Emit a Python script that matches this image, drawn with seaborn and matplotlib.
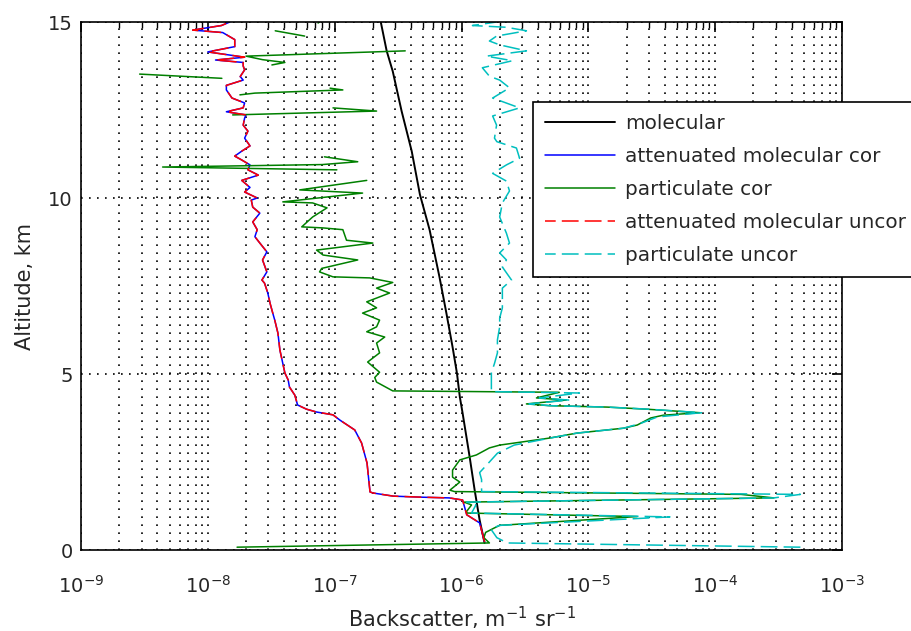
import numpy as np
import pandas as pd
import matplotlib
matplotlib.use("Agg")
import matplotlib.pyplot as plt
import seaborn as sns
from matplotlib.lines import Line2D
from matplotlib.ticker import LogLocator, NullFormatter

# ---------------- data ----------------
alt_mol = [0.2, 0.85, 1.7, 2.64, 3.89, 4.35, 5.03, 5.77, 6.73, 7.76, 9.1, 10.1,
           11.33, 12.47, 13.6, 14.18, 15.0]
molecular = [1.52e-6, 1.39e-6, 1.27e-6, 1.16e-6, 1.02e-6, 9.7e-7, 9.2e-7, 8.5e-7,
             7.6e-7, 6.7e-7, 5.6e-7, 4.7e-7, 4.05e-7, 3.37e-7, 2.87e-7, 2.57e-7, 2.31e-7]

alt_att = [0.23, 0.77, 1.0, 1.42, 1.48, 1.50, 1.53, 1.62, 1.65, 2.05, 2.47, 3.04, 3.41,
           3.69, 3.84, 3.92, 4.0, 4.12, 4.4, 4.63, 4.83, 5.03, 5.68, 6.16, 6.53, 6.73,
           7.0, 7.3, 7.58, 7.67, 7.9, 8.24, 8.47, 8.72, 8.9, 9.1, 9.32, 9.57, 9.74,
           9.94, 10.0, 10.17, 10.3, 10.5, 10.65, 10.8, 10.94, 11.08, 11.19, 11.33,
           11.48, 11.7, 11.9, 12.07, 12.27, 12.36, 12.45, 12.56, 12.7, 12.84, 13.07,
           13.2, 13.35, 13.45, 13.64, 13.75, 13.85, 13.92, 14.0, 14.15, 14.3, 14.5,
           14.7, 14.77, 14.9, 15.0]
att_mol_cor = [1.52e-6, 1.39e-6, 1.1e-6, 1.02e-6, 8.0e-7, 4.9e-7, 2.9e-7, 2.0e-7,
               1.9e-7, 1.85e-7, 1.8e-7, 1.63e-7, 1.44e-7, 1.1e-7, 9.7e-8, 7.2e-8,
               6.0e-8, 5.1e-8, 4.85e-8, 4.4e-8, 4.3e-8, 4.05e-8, 3.7e-8, 3.57e-8,
               3.37e-8, 3.25e-8, 3.1e-8, 2.97e-8, 2.8e-8, 2.67e-8, 2.92e-8, 2.7e-8,
               2.92e-8, 2.57e-8, 2.35e-8, 2.45e-8, 2.26e-8, 2.57e-8, 2.26e-8, 2.2e-8,
               2.45e-8, 1.95e-8, 2.15e-8, 1.85e-8, 2.5e-8, 2.07e-8, 2.15e-8, 1.85e-8,
               1.63e-8, 1.85e-8, 2.15e-8, 1.95e-8, 2.07e-8, 1.9e-8, 1.95e-8, 2.0e-8,
               1.4e-8, 1.9e-8, 1.95e-8, 1.55e-8, 1.4e-8, 1.4e-8, 1.9e-8, 1.8e-8,
               1.95e-8, 1.9e-8, 1.9e-8, 1.15e-8, 1.95e-8, 1.0e-8, 1.63e-8, 1.63e-8,
               1.31e-8, 7.6e-9, 1.28e-8, 1.49e-8]
att_mol_uncor = list(att_mol_cor)

nan = float("nan")
alt_part = [0.08, 0.2, 0.35, 0.5, 0.62, 0.7, 0.95, 1.05, 1.10, 1.28, 1.36, 1.48, 1.58,
            1.66, 1.7, 1.93, 2.07, 2.27, 2.56, 2.7, 2.9, 2.98, 3.18, 3.32, 3.46, 3.55,
            3.75, 3.83, 3.9, 4.0, 4.06, 4.1, 4.15, 4.26, 4.32, 4.48, 4.52, 4.77, 4.9,
            5.05, 5.34, 5.6, 5.88, 6.05, 6.2, 6.34, 6.53, 6.73, 6.88, 7.05, 7.3, 7.44,
            7.6, 7.73, 7.76, 7.9, 8.0, 8.24, 8.38, 8.52, 8.72, 8.8, 9.1, 9.15, 9.18,
            9.46, 9.72, 9.86, 9.89, 10.14, 10.23, 10.5, 10.65, 10.8, 10.88, 10.95,
            11.03, 11.17, 11.5, 12.36, 12.47, 12.56, 12.75, 12.93, 12.98, 13.07,
            13.12, 13.25, 13.4, 13.52, 13.65, 13.78, 13.85, 13.93, 14.03, 14.18,
            14.4, 14.6, 14.75, 14.85, 14.97, 15.0]
part_cor = [1.7e-8, 1.66e-6, 1.5e-6, 1.55e-6, 1.8e-6, 2.0e-6, 2.43e-5, 1.1e-6, 1.1e-6,
            1.2e-6, 1.05e-6, 2.9e-4, 1.6e-4, 8.8e-7, 8.1e-7, 9.7e-7, 8.5e-7, 8.5e-7,
            9.7e-7, 1.31e-6, 1.66e-6, 2.0e-6, 4.95e-6, 8.1e-6, 1.89e-5, 2.43e-5,
            3.1e-5, 3.9e-5, 7.6e-5, 2.9e-5, 1.41e-5, 4.95e-6, 3.25e-6, 6.7e-6, 3.9e-6,
            5.9e-6, 2.87e-7, 2.14e-7, 2.07e-7, 2.26e-7, 1.82e-7, 2.26e-7, 2.14e-7,
            2.48e-7, 1.79e-7, 2.14e-7, 2.26e-7, 1.66e-7, 2.14e-7, 1.79e-7, 2.71e-7,
            2.14e-7, 2.87e-7, 1.89e-7, 9.7e-8, 7.6e-8, 7.9e-8, 1.52e-7, 8.1e-8, 7.2e-8,
            2.0e-7, 1.24e-7, 1.16e-7, 8.1e-8, 5.5e-8, 6.7e-8, 8.7e-8, 6.7e-8, 3.9e-8,
            1.66e-7, 5.3e-8, 1.79e-7, nan, 1.04e-7, 4.4e-9, 8.0e-8, 1.52e-7, 8.3e-8,
            nan, 1.57e-8, 2.14e-7, 9.7e-8, nan, 1.79e-8, 2.35e-8, 1.16e-7, 9.2e-8,
            nan, 1.29e-8, 2.9e-9, nan, 3.2e-8, 4.05e-8, 2.7e-8, 2.0e-8, 3.6e-7, nan,
            5.8e-8, 3.4e-8, nan, 7.4e-8, 7.6e-8]

alt_unc = [0.08, 0.2, 0.35, 0.6, 0.7, 0.94, 1.05, 1.28, 1.36, 1.48, 1.58, 1.66, 1.7,
           2.0, 2.2, 2.5, 2.75, 2.98, 3.18, 3.32, 3.46, 3.6, 3.78, 3.9, 4.0, 4.06, 4.1,
           4.15, 4.26, 4.32, 4.46, 4.5, 4.74, 5.03, 5.3, 5.6, 5.97, 6.34, 6.59, 6.88,
           7.1, 7.44, 7.67, 8.04, 8.24, 8.44, 8.72, 9.0, 9.46, 9.86, 10.2, 10.48, 10.7,
           10.94, 11.13, 11.42, 11.6, 11.7, 12.07, 12.33, 12.56, 12.84, 13.13, 13.35,
           13.46, 13.7, 13.9, 14.03, 14.18, 14.35, 14.46, 14.6, 14.75, 14.85, 14.9,
           15.0]
part_uncor = [4.7e-4, 2.3e-6, 1.9e-6, 1.7e-6, 2.0e-6, 4.4e-5, 1.2e-6, 1.3e-6, 1.1e-6,
              2.9e-4, 4.7e-4, 1.44e-6, 1.44e-6, 1.44e-6, 1.39e-6, 1.66e-6, 1.92e-6,
              2.6e-6, 5.0e-6, 8.1e-6, 1.9e-5, 2.6e-5, 3.5e-5, 7.8e-5, 3.0e-5, 1.4e-5,
              5.0e-6, 3.4e-6, 7.0e-6, 4.1e-6, 8.5e-6, 1.72e-6, 1.72e-6, 1.72e-6,
              1.82e-6, 1.92e-6, 1.92e-6, 2.0e-6, 2.0e-6, 2.1e-6, 2.1e-6, 2.1e-6,
              2.48e-6, 2.1e-6, 2.26e-6, 2.0e-6, 2.39e-6, 2.26e-6, 2.0e-6, 2.1e-6,
              2.39e-6, 2.26e-6, 1.76e-6, 2.26e-6, 2.87e-6, 2.71e-6, 1.9e-6, 1.82e-6,
              1.89e-6, 1.76e-6, 2.87e-6, 1.76e-6, 2.39e-6, 2.0e-6, 1.66e-6, 1.46e-6,
              2.52e-6, 1.57e-6, 3.25e-6, 2.0e-6, 1.66e-6, 1.89e-6, 3.25e-6, 2.26e-6,
              1.22e-6, 1.89e-6]

x_ticks = [1e-9, 1e-8, 1e-7, 1e-6, 1e-5, 1e-4, 1e-3]
x_ticklabels = [r"$10^{-9}$", r"$10^{-8}$", r"$10^{-7}$", r"$10^{-6}$",
                r"$10^{-5}$", r"$10^{-4}$", r"$10^{-3}$"]
y_ticks = [0, 5, 10, 15]
labels = ["molecular", "attenuated molecular cor", "particulate cor",
          "attenuated molecular uncor", "particulate uncor"]

# ---------------- plotting ----------------
sns.set_theme(style="white")
plt.rcParams["font.family"] = ["DejaVu Sans"]
plt.rcParams["mathtext.fontset"] = "dejavusans"

W, H = 911, 631
fig = plt.figure(figsize=(W / 100, H / 100), dpi=100)
fig.patch.set_facecolor("white")
ax = fig.add_axes([81 / W, 1 - 550 / H, 761 / W, 528 / H])
ax.set_xscale("log")
ax.set_facecolor("white")


def profile(alt, val):
    df = pd.DataFrame({"alt": alt, "val": val})
    df["seg"] = df["val"].isna().cumsum()
    return df.dropna()


C_BLACK, C_BLUE, C_GREEN, C_RED, C_CYAN = "#000000", "#0000ff", "#008000", "#ff0000", "#00bfbf"
dash = (0, (11, 4))
leg_dash = (4, (11, 4))

series = [
    (profile(alt_mol, molecular), C_BLACK, "-", 1.4),
    (profile(alt_att, att_mol_cor), C_BLUE, "-", 1.1),
    (profile(alt_part, part_cor), C_GREEN, "-", 1.1),
    (profile(alt_att, att_mol_uncor), C_RED, dash, 1.1),
    (profile(alt_unc, part_uncor), C_CYAN, dash, 1.1),
]
for df, col, ls, lw in series:
    sns.lineplot(data=df, x="val", y="alt", units="seg", estimator=None, sort=False,
                 orient="y", color=col, linestyle=ls, linewidth=lw, ax=ax, legend=False)

ax.set_xlim(1e-9, 1e-3)
ax.set_ylim(0, 15)
ax.set_xticks(x_ticks)
ax.set_xticklabels(x_ticklabels)
ax.xaxis.set_minor_locator(LogLocator(base=10, subs=np.arange(2, 10), numticks=20))
ax.xaxis.set_minor_formatter(NullFormatter())
ax.set_yticks(y_ticks)
ax.set_yticklabels([str(v) for v in y_ticks])

grid_kw = dict(color="black", linestyle=(0, (1, 3.8)), linewidth=1.2)
ax.grid(True, which="major", axis="both", **grid_kw)
ax.grid(True, which="minor", axis="x", **grid_kw)
ax.set_axisbelow(True)

ax.tick_params(which="both", direction="in", top=True, right=True, color="black")
ax.tick_params(which="major", length=7, width=1.2)
ax.tick_params(which="minor", length=4, width=1.0)
ax.tick_params(axis="x", which="major", labelsize=14, pad=18)
ax.tick_params(axis="y", which="major", labelsize=14, pad=6)
for s in ax.spines.values():
    s.set_color("black")
    s.set_linewidth(1.2)
    s.set_visible(True)

ax.set_xlabel(r"Backscatter, m$^{-1}$ sr$^{-1}$", fontsize=15, labelpad=6)
ax.set_ylabel("Altitude, km", fontsize=15, labelpad=9)

handles = [
    Line2D([], [], color=C_BLACK, lw=1.4),
    Line2D([], [], color=C_BLUE, lw=1.1),
    Line2D([], [], color=C_GREEN, lw=1.1),
    Line2D([], [], color=C_RED, lw=1.1, linestyle=leg_dash),
    Line2D([], [], color=C_CYAN, lw=1.1, linestyle=leg_dash),
]
leg = ax.legend(handles, labels, loc="upper left",
                bbox_to_anchor=(533 / W, 1 - 102 / H), bbox_transform=fig.transFigure,
                borderaxespad=0, frameon=True, fancybox=False, framealpha=1,
                edgecolor="black", facecolor="white", fontsize=14.4,
                handlelength=3.5, handletextpad=0.5, labelspacing=0.7, borderpad=0.6)
leg.get_frame().set_linewidth(1.2)

fig.savefig("out.png", dpi=100)
